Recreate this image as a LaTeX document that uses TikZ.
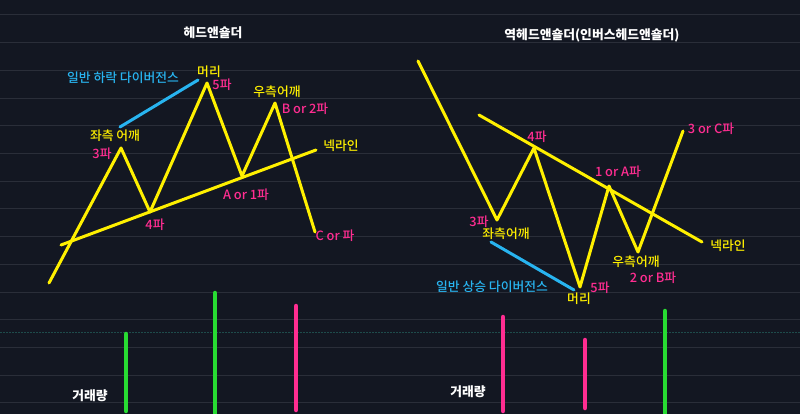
\documentclass[tikz,border=0pt]{standalone}
\usepackage{fontspec}
\setmainfont{Noto Sans CJK KR}
\newfontfamily\medfont{Noto Sans CJK KR Medium}
\definecolor{bg}{HTML}{131722}
\definecolor{gridc}{HTML}{2A2E39}
\definecolor{tealc}{HTML}{1E4B4B}
\definecolor{yel}{RGB}{255,240,0}
\definecolor{pnk}{RGB}{255,45,145}
\definecolor{grn}{RGB}{40,220,50}
\definecolor{blu}{RGB}{40,180,240}
\tikzset{
  wave/.style={draw=yel, line width=3pt, line join=round, line cap=round},
  divline/.style={draw=blu, line width=3pt, line cap=round},
  volbar/.style={line width=4.5pt, line cap=round},
  lbl/.style={inner sep=0pt, font=\medfont\fontsize{12.8}{14}\selectfont},
  ylbl/.style={lbl, text=yel},
  plbl/.style={lbl, text=pnk},
  blbl/.style={lbl, text=blu},
  ttl/.style={inner sep=0pt, text=white, font=\fontsize{12.8}{14}\selectfont\bfseries},
}
\begin{document}
\begin{tikzpicture}[x=1pt,y=-1pt]
\fill[bg] (0,0) rectangle (800,414);
\useasboundingbox (0,0) rectangle (800,414);
\foreach \k in {0,...,14} {
  \draw[gridc, line width=1pt] (0,{15+27.7*\k}) -- (800,{15+27.7*\k});
}
\draw[tealc, line width=1pt, dash pattern=on 2pt off 1pt] (0,332) -- (800,332);

% ---------- left: head and shoulders ----------
\coordinate (l0) at (49,283);
\coordinate (l1) at (121,148);
\coordinate (l2) at (150,212);
\coordinate (l3) at (207,83);
\coordinate (l4) at (242,176);
\coordinate (l5) at (275,103);
\coordinate (l6) at (315,232);
\draw[wave] (l0) -- (l1) -- (l2) -- (l3) -- (l4) -- (l5) -- (l6);
\coordinate (ln0) at (61,245);
\coordinate (ln1) at (316,150);
\draw[wave] (ln0) -- (ln1);
\coordinate (ld0) at (120,127);
\coordinate (ld1) at (198,80);
\draw[divline] (ld0) -- (ld1);

\node[ttl] (t1) at (213,33) {헤드앤숄더};
\node[blbl] (ldl) at (123,78) {일반 하락 다이버전스};
\node[ylbl] (lhead) at (209,72) {머리};
\node[plbl] (l5p) at (222,85) {5파};
\node[ylbl] (lrs) at (277,92) {우측어깨};
\node[plbl] (lb2) at (305,109) {B or 2파};
\node[ylbl] (lneck) at (341,146) {넥라인};
\node[ylbl] (lls) at (115,136) {좌측 어깨};
\node[plbl] (l3p) at (102,154) {3파};
\node[plbl] (la1) at (246,195) {A or 1파};
\node[plbl] (l4p) at (155,225) {4파};
\node[plbl] (lc) at (335,236) {C or 파};
\node[ttl] (lvol) at (90,396) {거래량};

\draw[volbar, grn] (126,334) -- (126,411);
\draw[volbar, grn] (215,293) -- (215,415);
\draw[volbar, pnk] (296,306) -- (296,410);

% ---------- right: inverse head and shoulders ----------
\coordinate (r0) at (418,61);
\coordinate (r1) at (497,220);
\coordinate (r2) at (534,148);
\coordinate (r3) at (580,287);
\coordinate (r4) at (609,186);
\coordinate (r5) at (638,252);
\coordinate (r6) at (683,131);
\draw[wave] (r0) -- (r1) -- (r2) -- (r3) -- (r4) -- (r5) -- (r6);
\coordinate (rn0) at (479,115);
\coordinate (rn1) at (702,242);
\draw[wave] (rn0) -- (rn1);
\coordinate (rd0) at (491,242);
\coordinate (rd1) at (574,290);
\draw[divline] (rd0) -- (rd1);

\node[ttl] (t2) at (592,35) {역헤드앤숄더(인버스헤드앤숄더)};
\node[plbl] (r4p) at (537,137) {4파};
\node[plbl] (r1a) at (618,172) {1 or A파};
\node[plbl] (r3c) at (711,129) {3 or C파};
\node[plbl] (r3p) at (479,222) {3파};
\node[ylbl] (rls) at (506,234) {좌측어깨};
\node[blbl] (rdl) at (492,287) {일반 상승 다이버전스};
\node[ylbl] (rhead) at (579,299) {머리};
\node[plbl] (r5p) at (600,288) {5파};
\node[ylbl] (rrs) at (636,262) {우측어깨};
\node[plbl] (r2b) at (653,278) {2 or B파};
\node[ylbl] (rneck) at (728,246) {넥라인};
\node[ttl] (rvol) at (468,392) {거래량};

\draw[volbar, pnk] (503,317) -- (503,411);
\draw[volbar, pnk] (585,340) -- (585,408);
\draw[volbar, grn] (665,311) -- (665,415);
\end{tikzpicture}
\end{document}
